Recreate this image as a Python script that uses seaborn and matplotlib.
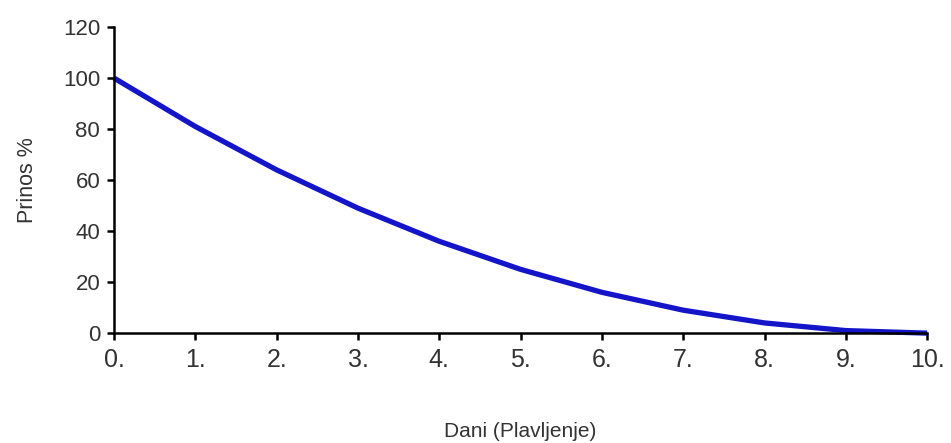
import matplotlib
matplotlib.use("Agg")
import matplotlib.pyplot as plt
import seaborn as sns
import pandas as pd

# values
days = [0, 1, 2, 3, 4, 5, 6, 7, 8, 9, 10]
yield_pct = [100, 81, 64, 49, 36, 25, 16, 9, 4, 1, 0]
x_tick_labels = ["0.", "1.", "2.", "3.", "4.", "5.", "6.", "7.", "8.", "9.", "10."]
y_ticks = [0, 20, 40, 60, 80, 100, 120]

sns.set_style("white")
plt.rcParams['font.family'] = ['Liberation Sans', 'DejaVu Sans']

df = pd.DataFrame({"day": days, "yield": yield_pct})

fig = plt.figure(figsize=(9.51, 4.43), dpi=100)
ax = fig.add_axes([0.1199, 0.248, 0.855, 0.691])
sns.lineplot(data=df, x="day", y="yield", ax=ax, color="#1414c8", linewidth=3.8,
             solid_capstyle="butt", solid_joinstyle="round", clip_on=False)

ax.set_xlim(0, 10)
ax.set_ylim(0, 120)
ax.set_xticks(days)
ax.set_xticklabels(x_tick_labels, fontsize=18)
ax.set_yticks(y_ticks)
ax.set_yticklabels([str(v) for v in y_ticks], fontsize=16)
ax.set_xlabel("Dani (Plavljenje)", fontsize=15, labelpad=36, color="#333333")
ax.set_ylabel("Prinos %", fontsize=15.5, labelpad=18, color="#333333")

sns.despine(ax=ax)
for s in ["left", "bottom"]:
    ax.spines[s].set_linewidth(1.8)
    ax.spines[s].set_color("black")
ax.tick_params(axis="both", direction="out", length=5, width=1.8, color="black",
               left=True, bottom=True, colors="#333333")
ax.tick_params(axis="x", pad=6)
ax.tick_params(axis="y", pad=5)
for t in ax.get_xticklines() + ax.get_yticklines():
    t.set_color("black")

fig.savefig("out.png", dpi=100)
